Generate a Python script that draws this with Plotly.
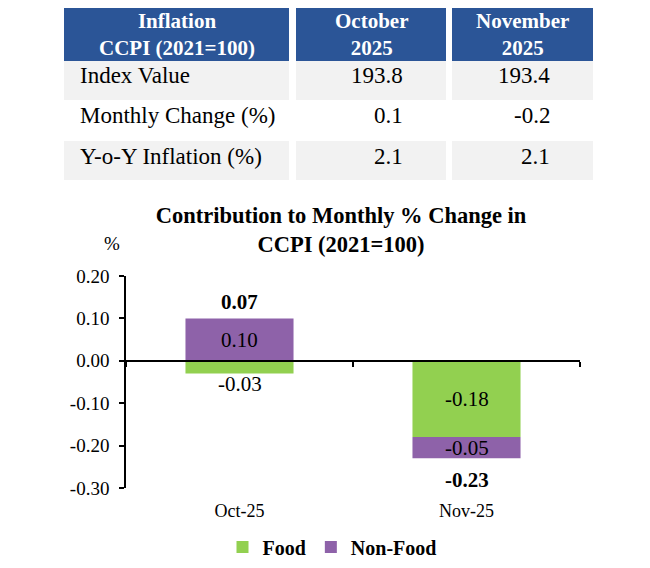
import plotly.graph_objects as go

# ---------------- data ----------------
table_header = ["Inflation<br>CCPI (2021=100)", "October<br>2025", "November<br>2025"]
row_labels = ["Index Value", "Monthly Change (%)", "Y-o-Y Inflation (%)"]
oct_values = ["193.8", "0.1", "2.1"]
nov_values = ["193.4", "-0.2", "2.1"]

months = ["Oct-25", "Nov-25"]
food = [-0.03, -0.18]
non_food = [0.10, -0.05]
y_tick_vals = [-0.30, -0.20, -0.10, 0.00, 0.10, 0.20]
y_tick_text = ["-0.30", "-0.20", "-0.10", "0.00", "0.10", "0.20"]
chart_title = "Contribution to Monthly % Change in<br>CCPI (2021=100)"

# ---------------- layout constants ----------------
W, H = 650, 568
OFF_X, OFF_Y = 8, 8  # page offset compensation
FONT = "Liberation Serif"
BLUE = "#2B5597"
GREY = "#F2F2F2"
GREEN = "#92D050"
PURPLE = "#8E62A9"


def fx(x):
    return (x - OFF_X) / W


def fy(y):
    return 1 - (y - OFF_Y) / H


COLS = [(64, 289), (296, 446), (452, 593)]
HEADER = (7, 61)
ROWS = [(61, 100, GREY), (100, 141, "white"), (141, 180, GREY)]
NUM_RIGHT_PAD = 41

PLOT_X = (126, 580)
PLOT_Y = (276, 488)  # top, bottom in pixels
Y_RANGE = [-0.30, 0.20]

shapes = []
annotations = []

# table header
for (x0, x1), txt in zip(COLS, table_header):
    shapes.append(dict(type="rect", xref="paper", yref="paper", x0=fx(x0), x1=fx(x1),
                       y0=fy(HEADER[1]), y1=fy(HEADER[0]), fillcolor=BLUE, line_width=0, layer="below"))
    annotations.append(dict(xref="paper", yref="paper", x=fx((x0 + x1) / 2), y=fy((HEADER[0] + HEADER[1]) / 2 + 1),
                            text="<b>" + txt + "</b>", showarrow=False, xanchor="center", yanchor="middle",
                            font=dict(family=FONT, size=21, color="white")))

# table body
for (top, bot, col), lab, v1, v2 in zip(ROWS, row_labels, oct_values, nov_values):
    for x0, x1 in COLS:
        shapes.append(dict(type="rect", xref="paper", yref="paper", x0=fx(x0), x1=fx(x1),
                           y0=fy(bot), y1=fy(top), fillcolor=col, line_width=0, layer="below"))
    ty = fy(top + 15)
    annotations.append(dict(xref="paper", yref="paper", x=fx(COLS[0][0] + 14), y=ty, text=lab,
                            showarrow=False, xanchor="left", yanchor="middle",
                            font=dict(family=FONT, size=23, color="black")))
    for (x0, x1), v in zip(COLS[1:], [v1, v2]):
        annotations.append(dict(xref="paper", yref="paper", x=fx(x1 - NUM_RIGHT_PAD), y=ty, text=v,
                                showarrow=False, xanchor="right", yanchor="middle",
                                font=dict(family=FONT, size=23, color="black")))

# ---------------- chart ----------------
fig = go.Figure()
fig.add_trace(go.Bar(x=months, y=food, name="<b>Food</b>", marker=dict(color=GREEN, line_width=0)))
fig.add_trace(go.Bar(x=months, y=non_food, name="<b>Non-Food</b>", marker=dict(color=PURPLE, line_width=0)))
fig.add_trace(go.Scatter(x=months, y=[0, 0], xaxis="x2", mode="none", showlegend=False, hoverinfo="skip"))

LABEL_FONT = dict(family=FONT, size=21, color="black")

# segment labels
for i, m in enumerate(months):
    pos_base, neg_base = 0.0, 0.0
    for series in (food, non_food):
        v = series[i]
        base = pos_base if v >= 0 else neg_base
        end = base + v
        if abs(v) >= 0.04:
            annotations.append(dict(x=m, y=base + v / 2, xref="x", yref="y", text=f"{v:.2f}",
                                    showarrow=False, yanchor="middle", font=LABEL_FONT))
        else:
            annotations.append(dict(x=m, y=end, xref="x", yref="y", text=f"{v:.2f}",
                                    showarrow=False, yanchor="top" if v < 0 else "bottom",
                                    yshift=4 if v < 0 else -4, font=LABEL_FONT))
        if v >= 0:
            pos_base = end
        else:
            neg_base = end
    total = food[i] + non_food[i]
    if total >= 0:
        annotations.append(dict(x=m, y=pos_base, xref="x", yref="y", text=f"<b>{total:.2f}</b>",
                                showarrow=False, yanchor="bottom", yshift=2, font=LABEL_FONT))
    else:
        annotations.append(dict(x=m, y=neg_base, xref="x", yref="y", text=f"<b>{total:.2f}</b>",
                                showarrow=False, yanchor="top", yshift=-8, font=LABEL_FONT))

# % unit label
annotations.append(dict(xref="paper", yref="paper", x=fx(112), y=fy(243), text="%", showarrow=False,
                        xanchor="center", yanchor="middle", font=dict(family=FONT, size=19, color="black")))

y_dom = [fy(PLOT_Y[1]), fy(PLOT_Y[0])]
zero_pos = y_dom[0] + (0 - Y_RANGE[0]) / (Y_RANGE[1] - Y_RANGE[0]) * (y_dom[1] - y_dom[0])

fig.update_layout(
    width=W, height=H,
    margin=dict(l=0, r=0, t=0, b=0, autoexpand=False),
    paper_bgcolor="white", plot_bgcolor="white",
    barmode="relative", bargap=0.524,
    font=dict(family=FONT, color="black"),
    title=dict(text="<b>" + chart_title + "</b>", x=fx(341), xanchor="center", y=fy(223), yanchor="middle",
               font=dict(family=FONT, size=22.5, color="black")),
    xaxis=dict(domain=[fx(PLOT_X[0]), fx(PLOT_X[1])], type="category", categoryarray=months,
               range=[-0.5, 1.5], showline=False, showgrid=False, zeroline=False, ticks="",
               automargin=False, tickfont=dict(family=FONT, size=18, color="black"), ticklabelstandoff=10),
    xaxis2=dict(overlaying="x", anchor="free", position=zero_pos, type="category", categoryarray=months,
                range=[-0.5, 1.5], showline=True, linecolor="black", linewidth=1.5, automargin=False,
                ticks="outside", tickson="boundaries", ticklen=5, tickwidth=1.5, tickcolor="black",
                showticklabels=False, showgrid=False, zeroline=False),
    yaxis=dict(domain=y_dom, range=Y_RANGE, tickvals=y_tick_vals, ticktext=y_tick_text,
               showline=True, linecolor="black", linewidth=1.5, ticks="outside", ticklen=5,
               tickwidth=1.5, tickcolor="black", showgrid=False, zeroline=False, automargin=False,
               tickfont=dict(family=FONT, size=19, color="black"), ticklabelstandoff=6),
    legend=dict(orientation="h", x=fx(332), xanchor="center", y=fy(547), yanchor="middle",
                font=dict(family=FONT, size=20, color="black"), traceorder="normal",
                itemclick=False, bgcolor="rgba(0,0,0,0)"),
    shapes=shapes,
    annotations=annotations,
)

fig.write_html("out.html")
